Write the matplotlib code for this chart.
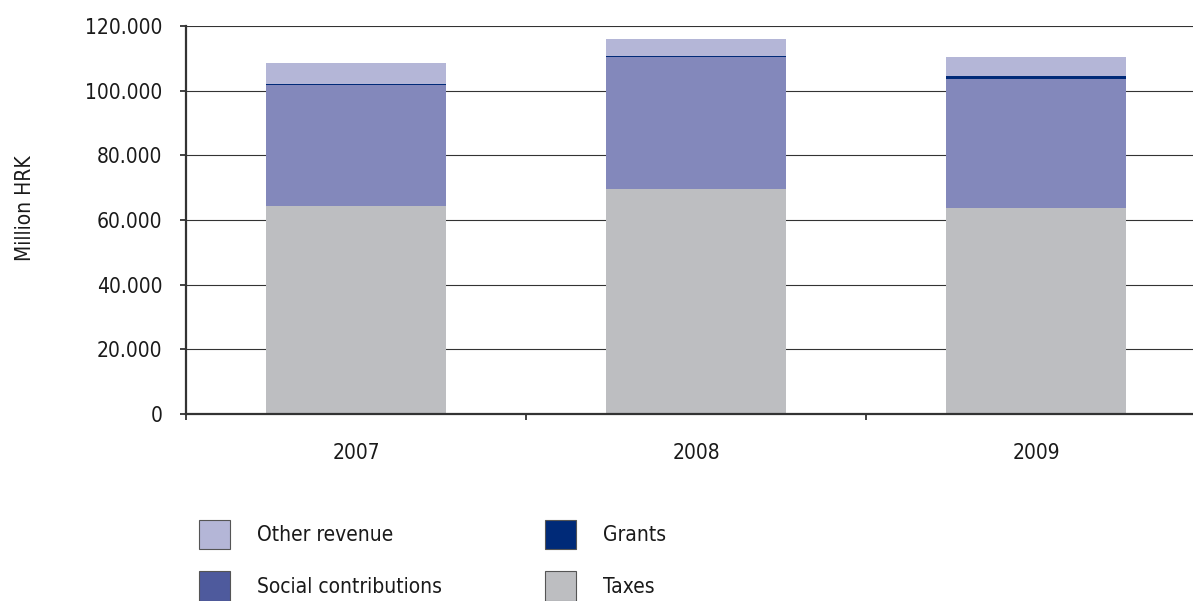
import matplotlib
matplotlib.use("Agg")
import matplotlib.pyplot as plt
from matplotlib import font_manager
from matplotlib.patches import Patch
from matplotlib.ticker import FuncFormatter, FixedLocator
import numpy as np

# prefer a narrow sans face when one is installed
narrow = [f for f in font_manager.fontManager.ttflist
          if ("Narrow" in f.name or "Condensed" in f.name or f.stretch in ("condensed", "semi-condensed"))
          and "Bold" not in f.fname and "Oblique" not in f.fname and "Italic" not in f.fname]
if narrow:
    plt.rcParams['font.family'] = [narrow[0].name, 'DejaVu Sans']
    if narrow[0].stretch != 'normal':
        plt.rcParams['font.stretch'] = narrow[0].stretch
    fs = 15
else:
    plt.rcParams['font.family'] = ['Liberation Sans', 'DejaVu Sans']
    fs = 14

# Revenue structure, million HRK
years = ["2007", "2008", "2009"]
taxes = [64400, 69600, 63700]
social_contributions = [37300, 40700, 40000]
grants = [400, 400, 700]
other_revenue = [6400, 5200, 6000]

yticks = [0, 20000, 40000, 60000, 80000, 100000, 120000]

c_taxes = "#bdbec1"
c_social = "#8388bb"
c_social_key = "#4e5a9d"
c_grants = "#002a78"
c_other = "#b4b6d7"
c_ink = "#1a1a1a"

W, H, DPI = 1193, 601, 100
fig = plt.figure(figsize=(W / DPI, H / DPI), dpi=DPI)
ax = fig.add_axes([186 / W, 1 - 414 / H, 1020 / W, 388 / H])

x = np.arange(len(years))
bw = 0.527
bottom = np.zeros(len(years))
for vals, col in [(taxes, c_taxes), (social_contributions, c_social),
                  (grants, c_grants), (other_revenue, c_other)]:
    ax.bar(x, vals, bw, bottom=bottom, color=col, linewidth=0, zorder=2)
    bottom += np.array(vals)

ax.set_xlim(-0.5, 2.5)
ax.set_ylim(0, 120000)
ax.set_yticks(yticks)
ax.yaxis.set_major_formatter(FuncFormatter(lambda v, p: f"{int(v):,}".replace(",", ".")))
ax.grid(axis="y", color="#333333", linewidth=0.8, zorder=0)
ax.set_axisbelow(True)

# category boundaries carry the ticks, labels sit in between
ax.xaxis.set_major_locator(FixedLocator([-0.5, 0.5, 1.5, 2.5]))
ax.xaxis.set_major_formatter(FuncFormatter(lambda v, p: ""))
ax.set_xticks(x, years, minor=True)
ax.tick_params(axis="x", which="major", direction="out", length=4.5, width=1.3, color="#333333")
ax.tick_params(axis="x", which="minor", length=0, pad=21, labelsize=fs, labelcolor=c_ink)
ax.tick_params(axis="y", direction="out", length=4, width=1.3, color="#333333",
               pad=13, labelsize=fs, labelcolor=c_ink)

for s in ["top", "right"]:
    ax.spines[s].set_visible(False)
for s in ["left", "bottom"]:
    ax.spines[s].set_color("#333333")
    ax.spines[s].set_linewidth(1.6)
    ax.spines[s].set_zorder(3)

ax.set_ylabel("Million HRK", fontsize=fs, color=c_ink)
ax.yaxis.set_label_coords(-0.148, 0.531)

edge = dict(edgecolor="#555555", linewidth=0.8)
columns = [
    (199, [Patch(facecolor=c_other, label="Other revenue", **edge),
           Patch(facecolor=c_social_key, label="Social contributions", **edge)]),
    (545, [Patch(facecolor=c_grants, label="Grants", **edge),
           Patch(facecolor=c_taxes, label="Taxes", **edge)]),
]
for xpx, hs in columns:
    fig.legend(handles=hs, ncol=1, loc="upper left",
               bbox_to_anchor=(xpx / W, 1 - 520 / H), frameon=False,
               borderpad=0, borderaxespad=0, fontsize=fs,
               handlelength=1.5, handleheight=1.8, handletextpad=1.3,
               labelspacing=1.05, labelcolor=c_ink)

fig.savefig("out.png", dpi=DPI)
